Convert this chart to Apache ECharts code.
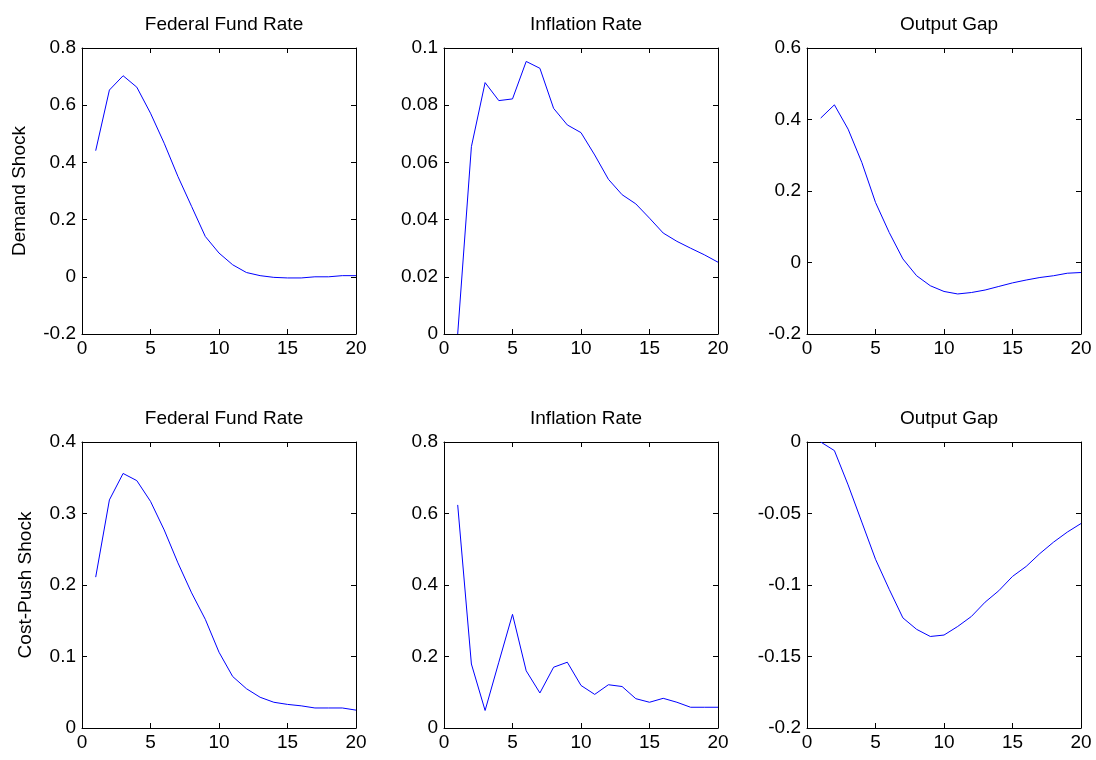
<!DOCTYPE html>
<html>
<head>
<meta charset="utf-8">
<script src="https://cdn.jsdelivr.net/npm/echarts@6/dist/echarts.min.js"></script>
<style>
  html, body { margin: 0; padding: 0; background: #fff; }
  #main { width: 1096px; height: 760px; }
</style>
</head>
<body>
<div id="main"></div>
<script>
// periods 1..20
var periods = [1,2,3,4,5,6,7,8,9,10,11,12,13,14,15,16,17,18,19,20];

// demand shock responses
var demandFFR = [0.441,0.653,0.703,0.663,0.572,0.467,0.351,0.246,0.141,0.083,0.042,0.015,0.004,-0.002,-0.004,-0.004,0.000,0.000,0.004,0.004];
var demandInf = [0.0,0.0655,0.0879,0.0816,0.0822,0.0953,0.0929,0.0789,0.0731,0.0704,0.0626,0.0541,0.0487,0.0455,0.0405,0.0353,0.0324,0.0300,0.0277,0.0251];
var demandGap = [0.404,0.441,0.373,0.280,0.168,0.084,0.010,-0.037,-0.065,-0.081,-0.088,-0.084,-0.077,-0.067,-0.057,-0.049,-0.042,-0.037,-0.030,-0.028];

// cost-push shock responses
var costFFR = [0.211,0.319,0.356,0.346,0.317,0.277,0.231,0.189,0.152,0.106,0.072,0.055,0.043,0.036,0.033,0.031,0.028,0.028,0.028,0.025];
var costInf = [0.624,0.179,0.049,0.184,0.318,0.160,0.098,0.170,0.184,0.119,0.094,0.121,0.116,0.082,0.072,0.083,0.072,0.058,0.058,0.058];
var costGap = [0.000,-0.006,-0.030,-0.056,-0.082,-0.103,-0.123,-0.131,-0.136,-0.135,-0.129,-0.122,-0.112,-0.104,-0.094,-0.087,-0.078,-0.070,-0.063,-0.057];

var panelTitles = ["Federal Fund Rate", "Inflation Rate", "Output Gap"];
var rowNames = ["Demand Shock", "Cost-Push Shock"];

// y axis ranges [min, max, interval] per panel
var yRanges = [
  [-0.2, 0.8, 0.2], [0, 0.1, 0.02], [-0.2, 0.6, 0.2],
  [0, 0.4, 0.1], [0, 0.8, 0.2], [-0.2, 0, 0.05]
];
var panelData = [demandFFR, demandInf, demandGap, costFFR, costInf, costGap];

var FONT = "Liberation Sans, Arial, sans-serif";
var lefts = [82, 444, 807];
var tops = [48, 442];
var W = 274, H = 286;

var grid = [], xAxis = [], yAxis = [], series = [], title = [];

for (var i = 0; i < 6; i++) {
  var r = Math.floor(i / 3), c = i % 3;
  grid.push({ left: lefts[c], top: tops[r], width: W, height: H });
  title.push({
    text: panelTitles[c],
    left: lefts[c] + W / 2,
    top: tops[r] - 38,
    textAlign: "center",
    textStyle: { fontFamily: FONT, fontSize: 19, fontWeight: "normal", color: "#000" }
  });
  var line = { show: true, onZero: false, lineStyle: { color: "#000", width: 1 } };
  var tick = { show: true, inside: true, length: 5, lineStyle: { color: "#000" } };
  // bottom x axis
  xAxis.push({
    gridIndex: i, type: "value", min: 0, max: 20, interval: 5, position: "bottom",
    axisLine: line, axisTick: tick, splitLine: { show: false },
    axisLabel: { fontFamily: FONT, fontSize: 19, color: "#000", margin: 5 }
  });
  // top x axis (ticks only)
  xAxis.push({
    gridIndex: i, type: "value", min: 0, max: 20, interval: 5, position: "top",
    axisLine: line, axisTick: tick, splitLine: { show: false }, axisLabel: { show: false }
  });
  var yr = yRanges[i];
  var yMain = {
    gridIndex: i, type: "value", min: yr[0], max: yr[1], interval: yr[2], position: "left",
    axisLine: line, axisTick: tick, splitLine: { show: false },
    axisLabel: { fontFamily: FONT, fontSize: 19, color: "#000", margin: 6 }
  };
  if (c === 0) {
    yMain.name = rowNames[r];
    yMain.nameLocation = "middle";
    yMain.nameRotate = 90;
    yMain.nameGap = r === 0 ? 53 : 47;
    yMain.nameTextStyle = { fontFamily: FONT, fontSize: 19, color: "#000" };
  }
  yAxis.push(yMain);
  yAxis.push({
    gridIndex: i, type: "value", min: yr[0], max: yr[1], interval: yr[2], position: "right",
    axisLine: line, axisTick: tick, splitLine: { show: false }, axisLabel: { show: false }
  });
  series.push({
    type: "line",
    xAxisIndex: i * 2,
    yAxisIndex: i * 2,
    data: periods.map(function (p, k) { return [p, panelData[i][k]]; }),
    showSymbol: false,
    lineStyle: { color: "#0000ff", width: 1 },
    clip: true,
    animation: false
  });
}

var myChart = echarts.init(document.getElementById("main"));
myChart.setOption({
  backgroundColor: "#fff",
  animation: false,
  title: title,
  grid: grid,
  xAxis: xAxis,
  yAxis: yAxis,
  series: series
});
</script>
</body>
</html>
